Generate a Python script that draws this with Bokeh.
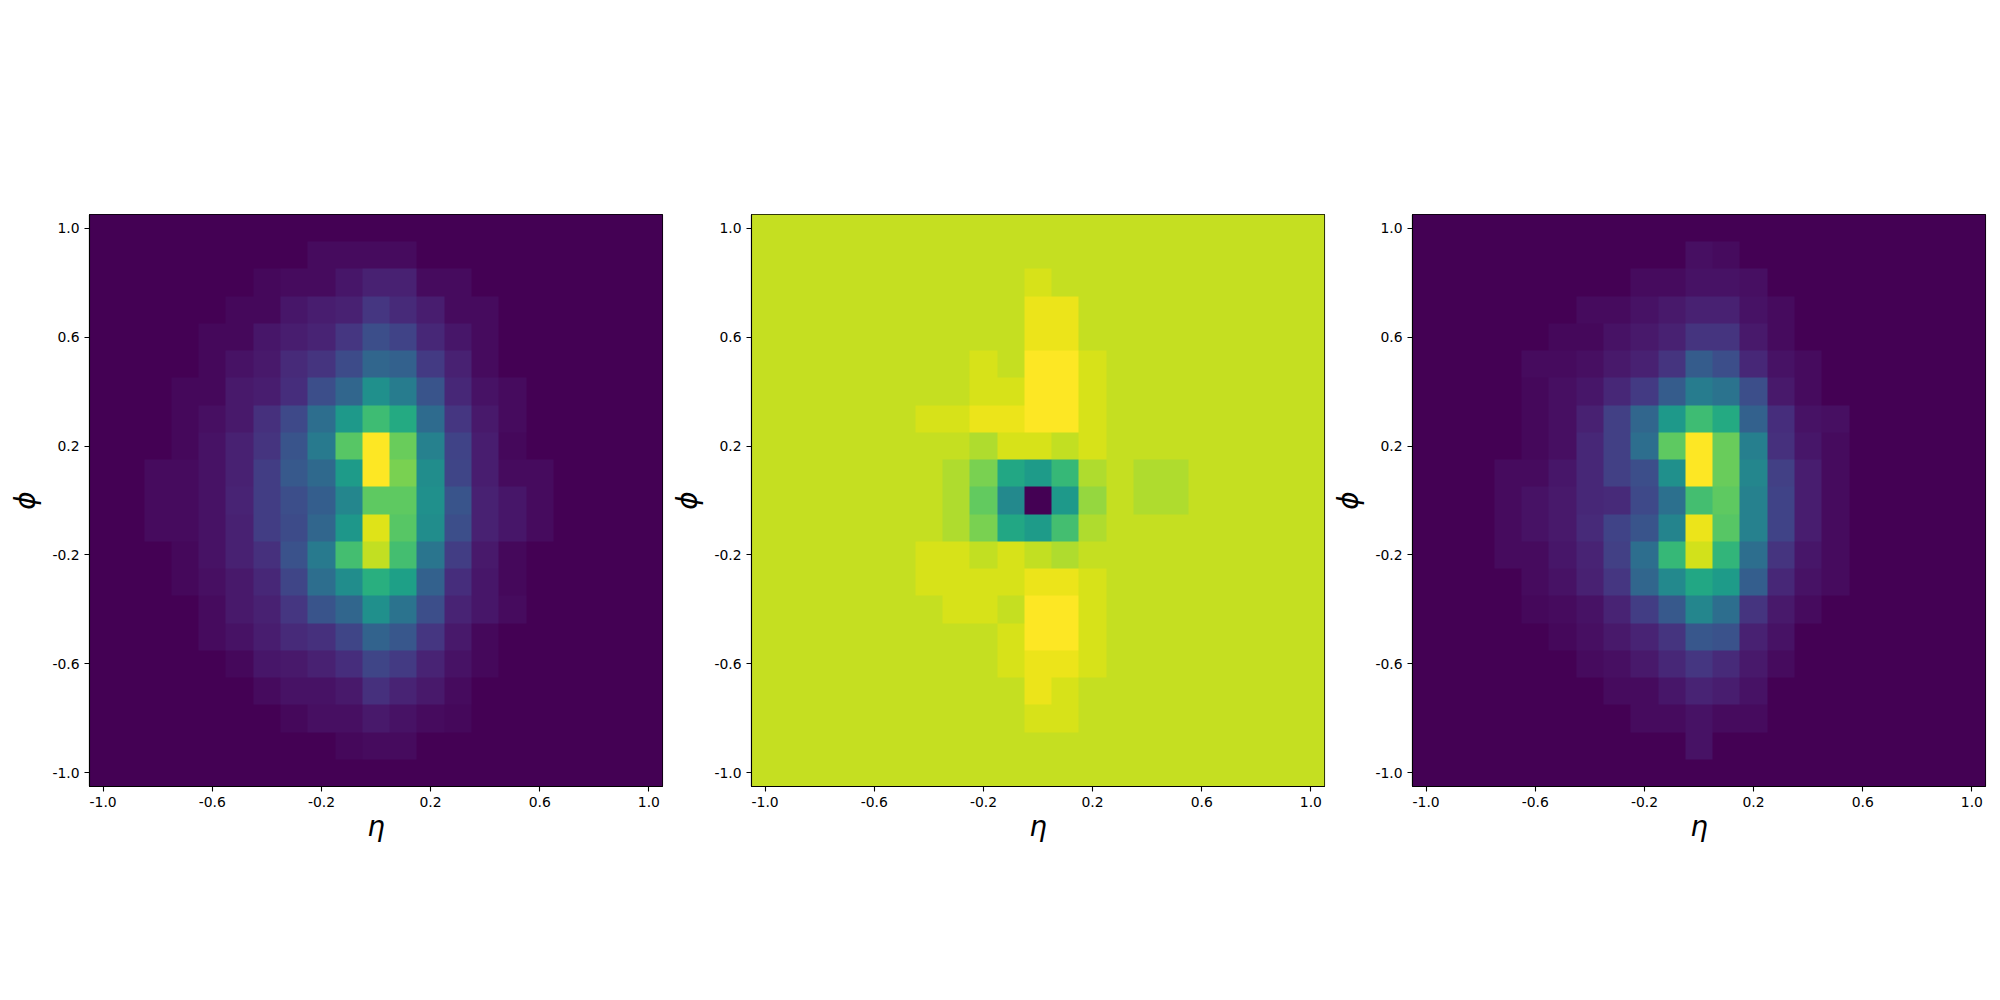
import numpy as np
from bokeh.embed import file_html
from bokeh.layouts import row
from bokeh.models import FixedTicker, LinearColorMapper, Range1d
from bokeh.palettes import Viridis256
from bokeh.plotting import figure
from bokeh.resources import INLINE

tick_values = [-1.0, -0.6, -0.2, 0.2, 0.6, 1.0]
tick_labels = ["-1.0", "-0.6", "-0.2", "0.2", "0.6", "1.0"]
x_label = "η"
y_label = "ϕ"

# Rows run from the top of each panel (phi = +1) to the bottom (phi = -1); values on a 0-100 scale.
left_panel = [
    [0,0,0,0,0,0,0,0,0,0,0,0,0,0,0,0,0,0,0,0,0],
    [0,0,0,0,0,0,0,0,3,3,3,3,0,0,0,0,0,0,0,0,0],
    [0,0,0,0,0,0,2,3,3,6,9,9,3,3,0,0,0,0,0,0,0],
    [0,0,0,0,0,2,2,6,8,9,16,12,8,3,3,0,0,0,0,0,0],
    [0,0,0,0,2,2,6,8,10,16,24,20,11,6,3,0,0,0,0,0,0],
    [0,0,0,0,2,5,7,12,15,23,33,31,17,9,3,0,0,0,0,0,0],
    [0,0,0,2,2,7,8,13,24,33,50,42,26,11,5,3,0,0,0,0,0],
    [0,0,0,2,4,7,14,22,36,54,69,61,35,16,7,3,0,0,0,0,0],
    [0,0,0,2,5,9,15,26,41,74,100,77,44,20,8,2,0,0,0,0,0],
    [0,0,3,3,5,9,18,28,34,55,100,80,49,21,8,3,3,0,0,0,0],
    [0,0,3,3,5,10,18,24,30,46,75,75,50,26,9,6,3,0,0,0,0],
    [0,0,3,3,5,9,18,23,33,53,95,74,49,24,9,6,3,0,0,0,0],
    [0,0,0,2,5,9,14,25,41,70,91,70,39,18,7,2,0,0,0,0,0],
    [0,0,0,2,4,7,11,21,36,49,63,57,31,13,6,2,0,0,0,0,0],
    [0,0,0,0,3,7,9,16,26,33,50,38,24,10,6,3,0,0,0,0,0],
    [0,0,0,0,3,5,8,12,14,21,32,27,16,7,2,0,0,0,0,0,0],
    [0,0,0,0,0,2,6,7,9,13,21,17,10,5,2,0,0,0,0,0,0],
    [0,0,0,0,0,0,3,5,5,7,14,10,7,3,0,0,0,0,0,0,0],
    [0,0,0,0,0,0,0,2,4,4,7,5,3,2,0,0,0,0,0,0,0],
    [0,0,0,0,0,0,0,0,0,2,3,3,0,0,0,0,0,0,0,0,0],
    [0,0,0,0,0,0,0,0,0,0,0,0,0,0,0,0,0,0,0,0,0],
]

B = 91.3
middle_panel = [
    [B,B,B,B,B,B,B,B,B,B,B,B,B,B,B,B,B,B,B,B,B],
    [B,B,B,B,B,B,B,B,B,B,B,B,B,B,B,B,B,B,B,B,B],
    [B,B,B,B,B,B,B,B,B,B,94,B,B,B,B,B,B,B,B,B,B],
    [B,B,B,B,B,B,B,B,B,B,97,97,B,B,B,B,B,B,B,B,B],
    [B,B,B,B,B,B,B,B,B,B,97,97,B,B,B,B,B,B,B,B,B],
    [B,B,B,B,B,B,B,B,94,B,100,100,94,B,B,B,B,B,B,B,B],
    [B,B,B,B,B,B,B,B,94,94,100,100,94,B,B,B,B,B,B,B,B],
    [B,B,B,B,B,B,94,94,97,97,100,100,94,B,B,B,B,B,B,B,B],
    [B,B,B,B,B,B,B,B,88,94,94,91,94,B,B,B,B,B,B,B,B],
    [B,B,B,B,B,B,B,88,80,60,55,67,88,B,88,88,B,B,B,B,B],
    [B,B,B,B,B,B,B,88,76,47,0,54,84,B,88,88,B,B,B,B,B],
    [B,B,B,B,B,B,B,88,80,60,55,70,88,B,B,B,B,B,B,B,B],
    [B,B,B,B,B,B,94,94,91,94,91,88,B,B,B,B,B,B,B,B,B],
    [B,B,B,B,B,B,94,94,94,94,97,97,94,B,B,B,B,B,B,B,B],
    [B,B,B,B,B,B,B,94,94,B,100,100,94,B,B,B,B,B,B,B,B],
    [B,B,B,B,B,B,B,B,B,94,100,100,94,B,B,B,B,B,B,B,B],
    [B,B,B,B,B,B,B,B,B,94,97,97,94,B,B,B,B,B,B,B,B],
    [B,B,B,B,B,B,B,B,B,B,97,94,B,B,B,B,B,B,B,B,B],
    [B,B,B,B,B,B,B,B,B,B,94,94,B,B,B,B,B,B,B,B,B],
    [B,B,B,B,B,B,B,B,B,B,B,B,B,B,B,B,B,B,B,B,B],
    [B,B,B,B,B,B,B,B,B,B,B,B,B,B,B,B,B,B,B,B,B],
]

right_panel = [
    [0,0,0,0,0,0,0,0,0,0,0,0,0,0,0,0,0,0,0,0,0],
    [0,0,0,0,0,0,0,0,0,0,4,3,0,0,0,0,0,0,0,0,0],
    [0,0,0,0,0,0,0,0,3,3,5,5,4,0,0,0,0,0,0,0,0],
    [0,0,0,0,0,0,3,3,5,7,9,9,5,3,0,0,0,0,0,0,0],
    [0,0,0,0,0,2,2,5,7,9,15,15,7,3,0,0,0,0,0,0,0],
    [0,0,0,0,3,3,4,7,9,15,29,24,11,5,3,0,0,0,0,0,0],
    [0,0,0,0,2,4,6,11,17,29,42,38,24,7,3,0,0,0,0,0,0],
    [0,0,0,0,2,4,9,19,33,54,69,61,31,13,5,4,0,0,0,0,0],
    [0,0,0,0,2,4,11,19,36,75,100,77,43,14,6,3,0,0,0,0,0],
    [0,0,0,3,3,6,11,19,24,50,100,77,46,19,8,3,0,0,0,0,0],
    [0,0,0,3,5,7,11,12,22,37,70,75,44,20,8,3,0,0,0,0,0],
    [0,0,0,3,5,7,12,20,26,45,97,74,44,20,8,3,0,0,0,0,0],
    [0,0,0,3,3,6,10,19,36,67,93,66,36,15,6,3,0,0,0,0,0],
    [0,0,0,0,3,5,9,16,33,47,60,55,30,11,5,3,0,0,0,0,0],
    [0,0,0,0,2,3,5,10,18,28,46,36,15,7,3,0,0,0,0,0,0],
    [0,0,0,0,0,2,4,7,10,15,27,25,9,5,0,0,0,0,0,0,0],
    [0,0,0,0,0,0,3,4,7,11,16,12,7,3,0,0,0,0,0,0,0],
    [0,0,0,0,0,0,0,3,3,6,10,8,5,0,0,0,0,0,0,0,0],
    [0,0,0,0,0,0,0,0,3,3,5,3,3,0,0,0,0,0,0,0,0],
    [0,0,0,0,0,0,0,0,0,0,5,0,0,0,0,0,0,0,0,0,0],
    [0,0,0,0,0,0,0,0,0,0,0,0,0,0,0,0,0,0,0,0,0],
]

mapper = LinearColorMapper(palette=Viridis256, low=0, high=100)


def panel(values, border_left, border_right):
    p = figure(
        frame_width=573, frame_height=572,
        min_border_left=border_left, min_border_right=border_right,
        min_border_top=214, min_border_bottom=200,
        x_range=Range1d(-1.05, 1.05), y_range=Range1d(-1.05, 1.05),
        output_backend="svg", toolbar_location=None,
    )
    p.image(image=[np.array(values, dtype=float)[::-1]], x=-1.05, y=-1.05, dw=2.1, dh=2.1,
            color_mapper=mapper)
    p.grid.visible = False
    p.outline_line_color = "black"
    p.outline_line_width = 1.1
    p.outline_line_alpha = 1
    for ax, label in ((p.xaxis[0], x_label), (p.yaxis[0], y_label)):
        ax.ticker = FixedTicker(ticks=tick_values)
        ax.major_label_overrides = dict(zip(tick_values, tick_labels))
        ax.axis_label = label
        ax.axis_label_text_font = "DejaVu Sans"
        ax.axis_label_text_font_style = "italic"
        ax.axis_label_text_font_size = "27.8px"
        ax.axis_label_text_color = "black"
        ax.major_label_text_font = "DejaVu Sans"
        ax.major_label_text_font_size = "13.9px"
        ax.major_label_text_color = "black"
        ax.major_label_standoff = 5
        ax.major_tick_in = 0
        ax.major_tick_out = 5
        ax.major_tick_line_color = "black"
        ax.major_tick_line_width = 1.1
        ax.minor_tick_line_color = None
        ax.axis_line_color = "black"
        ax.axis_line_width = 1.1
    p.xaxis[0].axis_label_standoff = 0
    p.yaxis[0].axis_label_standoff = 7
    p.yaxis[0].major_label_orientation = "horizontal"
    return p


p1 = panel(left_panel, 89, 5)
p2 = panel(middle_panel, 84, 4)
p3 = panel(right_panel, 84, 15)
page = row(p1, p2, p3, spacing=0)

open("out.html", "w").write(file_html(page, INLINE))
